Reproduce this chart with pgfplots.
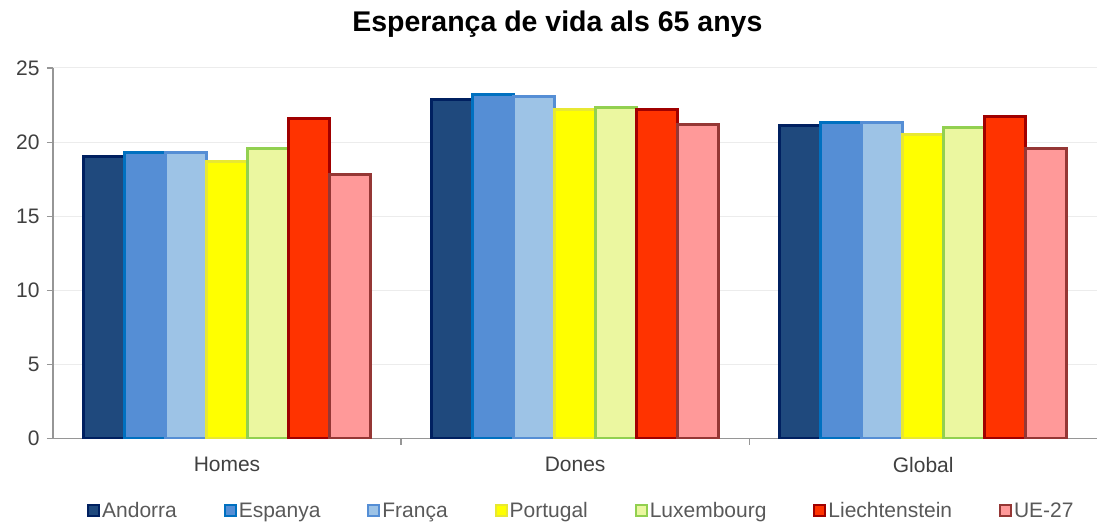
\documentclass[border=0pt]{standalone}
\usepackage{pgfplots}
\pgfplotsset{compat=1.18}
\usepackage{fontspec}
\setmainfont{Liberation Sans}
\definecolor{axisgray}{RGB}{150,150,150}
\definecolor{gridgray}{RGB}{236,236,236}
\definecolor{ticktext}{RGB}{64,64,64}
\definecolor{legtext}{RGB}{89,89,89}
\definecolor{andF}{RGB}{31,73,125}\definecolor{andD}{RGB}{0,32,96}
\definecolor{espF}{RGB}{85,142,213}\definecolor{espD}{RGB}{0,112,192}
\definecolor{fraF}{RGB}{157,195,230}\definecolor{fraD}{RGB}{85,142,213}
\definecolor{porF}{RGB}{255,255,0}\definecolor{porD}{RGB}{232,232,50}
\definecolor{luxF}{RGB}{235,247,160}\definecolor{luxD}{RGB}{146,208,80}
\definecolor{lieF}{RGB}{255,51,0}\definecolor{lieD}{RGB}{160,0,0}
\definecolor{ueF}{RGB}{255,153,153}\definecolor{ueD}{RGB}{149,55,53}
\begin{document}
\begin{tikzpicture}
\begin{axis}[
  scale only axis,
  width=1045pt, height=371pt,
  ybar=0pt, bar width=41pt,
  xmin=-0.5, xmax=2.5,
  ymin=0, ymax=25,
  ytick={0,5,10,15,20,25},
  xtick={0,1,2},
  xticklabels={Homes,Dones,Global},
  xtick style={draw=none},
  extra x ticks={0.5,1.5},
  extra x tick labels={},
  extra x tick style={xtick style={draw=axisgray, line width=1.2pt}, major tick length=6pt},
  ytick style={draw=axisgray, line width=1.2pt},
  major tick length=6pt,
  tick align=outside,
  axis x line*=bottom, axis y line*=left,
  axis line style={draw=axisgray, line width=1.5pt, -},
  ymajorgrids, major grid style={draw=gridgray, line width=1pt},
  /pgf/number format/assume math mode=true,
  tick label style={font=\fontsize{21}{24}\selectfont, text=ticktext},
  xticklabel style={yshift=-9pt},
  yticklabel style={anchor=east, xshift=-4pt},
  title={\bfseries Esperança de vida als 65 anys},
  title style={at={(0.483,1)}, anchor=base, yshift=30pt, font=\fontsize{28.5}{32}\selectfont},
  legend columns=7,
  legend style={at={(0.506,0)}, anchor=center, yshift=-72pt, draw=none, fill=none,
    font=\fontsize{21}{24}\selectfont, text=legtext,
    /tikz/every even column/.append style={column sep=45pt},
    inner sep=0pt},
  legend image code/.code={\draw[#1, line width=2pt] (0pt,-5.5pt) rectangle (11pt,5.5pt);},
  every axis plot/.append style={line width=3pt},
]
\addplot[fill=andF, draw=andD] coordinates {(0,19.0) (1,22.9) (2,21.1)};
\addplot[fill=espF, draw=espD] coordinates {(0,19.3) (1,23.2) (2,21.3)};
\addplot[fill=fraF, draw=fraD] coordinates {(0,19.3) (1,23.1) (2,21.3)};
\addplot[fill=porF, draw=porD] coordinates {(0,18.7) (1,22.2) (2,20.5)};
\addplot[fill=luxF, draw=luxD] coordinates {(0,19.6) (1,22.3) (2,21.0)};
\addplot[fill=lieF, draw=lieD] coordinates {(0,21.6) (1,22.2) (2,21.7)};
\addplot[fill=ueF, draw=ueD] coordinates {(0,17.8) (1,21.2) (2,19.6)};
\legend{Andorra,Espanya,França,Portugal,Luxembourg,Liechtenstein,UE-27}
\end{axis}
\path ([xshift=-53pt,yshift=-85pt]current axis.south west) rectangle ([yshift=68pt]current axis.north east);
\end{tikzpicture}
\end{document}
